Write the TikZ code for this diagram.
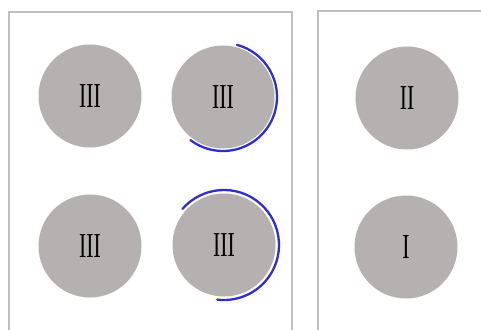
\documentclass[tikz,border=0pt]{standalone}
\usepackage{fontspec}
\setmainfont{Liberation Serif}
\begin{document}
\begin{tikzpicture}[x=1pt,y=-1pt,
  frame/.style={draw=black!25,line width=1.2pt},
  disc/.style={circle,fill=discgray,minimum size=103pt,inner sep=0pt,
    font=\fontsize{35}{35}\selectfont},
  arcline/.style={draw=arcblue,line width=2.3pt,line cap=round}]
\definecolor{discgray}{HTML}{B5B1B1}
\definecolor{arcblue}{HTML}{2E2ED2}
\useasboundingbox (0,0) rectangle (481,329);
\clip (0,0) rectangle (481,329);
\fill[white] (0,0) rectangle (481,329);
\draw[frame] (9,340) -- (9,12) -- (292,12) -- (292,340);
\draw[frame] (318,340) -- (318,11) -- (490,11);
\node[disc] (a) at (90,96) {\scalebox{0.62}[1]{III}};
\node[disc] (b) at (223,97) {\scalebox{0.62}[1]{III}};
\node[disc] (c) at (90,246) {\scalebox{0.62}[1]{III}};
\node[disc] (d) at (224,245) {\scalebox{0.62}[1]{III}};
\node[disc] (e) at (407,98) {\scalebox{0.62}[1]{II}};
\node[disc] (f) at (406,247) {\scalebox{0.62}[1]{I}};
\draw[arcline] ([shift={(-75:54)}]b.center) arc[start angle=-75,end angle=127,radius=54];
\draw[arcline] ([shift={(-139:55)}]d.center) arc[start angle=-139,end angle=97,radius=55];
\end{tikzpicture}
\end{document}
